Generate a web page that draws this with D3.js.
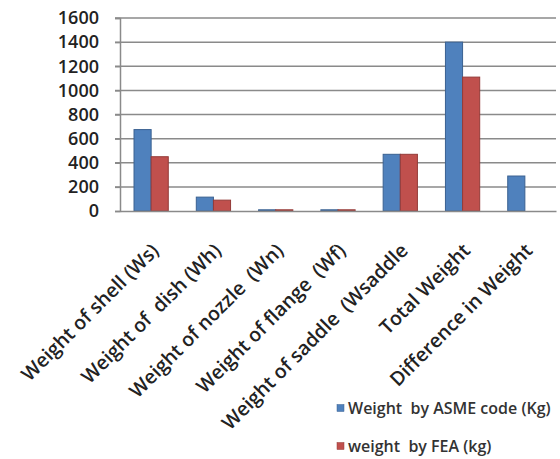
<!DOCTYPE html>
<html><head><meta charset="utf-8">
<script src="https://cdn.jsdelivr.net/npm/d3@7"></script>
<style>body{margin:0;background:#fff}text{font-family:"Open Sans",sans-serif}</style>
</head><body><svg id="c" width="560" height="459"></svg>
<script>
const categories = ["Weight of shell (Ws)","Weight of  dish (Wh)","Weight of nozzle  (Wn)","Weight of flange  (Wf)","Weight of saddle  (Wsaddle","Total Weight","Difference in Weight"];
const seriesNames = ["Weight  by ASME code (Kg)","weight  by FEA (kg)"];
const asme = [675, 115, 10, 10, 470, 1400, 290];
const fea = [450, 90, 10, 10, 470, 1110, null];
const yTicks = [0,200,400,600,800,1000,1200,1400,1600];
const colors = ["#4F81BD","#C0504D"];
const strokes = ["#3A6191","#943B38"];

const svg = d3.select("#c");
const m = {l:120, r:556, t:18, b:211};
const x = d3.scaleBand().domain(categories).range([m.l, m.r]).paddingInner(0.45).paddingOuter(0.225);
const xs = d3.scaleBand().domain([0,1]).range([0, x.bandwidth()]);
const y = d3.scaleLinear().domain([0,1600]).range([m.b, m.t]);

// gridlines
svg.append("g").selectAll("line").data(yTicks.slice(1)).join("line")
  .attr("x1", m.l-5).attr("x2", m.r).attr("y1", d=>y(d)).attr("y2", d=>y(d))
  .attr("stroke","#8a8a8a").attr("stroke-width",1.5);
// y axis
const ya = svg.append("g").attr("transform",`translate(${m.l},0)`)
  .call(d3.axisLeft(y).tickValues(yTicks).tickFormat(d3.format("d")).tickSize(5).tickPadding(16));
ya.select(".domain").attr("stroke","#8a8a8a").attr("stroke-width",1.5);
ya.selectAll(".tick line").attr("stroke","#8a8a8a").attr("stroke-width",1.5);
ya.selectAll("text").attr("font-size",18).attr("font-weight",600).attr("fill","#222");

// bars
const data = categories.map((c,i)=>({c, v:[asme[i], fea[i]]}));
const g = svg.append("g").selectAll("g").data(data).join("g").attr("transform", d=>`translate(${x(d.c)},0)`);
g.selectAll("rect").data(d=>d.v.map((v,k)=>({v,k})).filter(e=>e.v!=null)).join("rect")
  .attr("x", e=>xs(e.k)).attr("width", xs.bandwidth())
  .attr("y", e=>y(e.v)).attr("height", e=>y(0)-y(e.v))
  .attr("fill", e=>colors[e.k]).attr("stroke", e=>strokes[e.k]).attr("stroke-width",1);

// x axis
const xa = svg.append("g").attr("transform",`translate(0,${m.b})`)
  .call(d3.axisBottom(x).tickSize(0).tickFormat(""));
xa.select(".domain").attr("stroke","#8a8a8a").attr("stroke-width",1.5);
xa.selectAll(".tick text").remove();
svg.append("g").selectAll("text").data(categories).join("text")
  .attr("transform", d=>`translate(${x(d)+x.bandwidth()/2+4},${m.b+36}) rotate(-45)`)
  .attr("text-anchor","end").attr("dy","0.35em")
  .style("white-space","pre")
  .attr("font-size",19.5).attr("font-weight",600).attr("fill","#222")
  .text(d=>d);

// legend
const lg = svg.append("g").selectAll("g").data(seriesNames).join("g")
  .attr("transform",(d,i)=>`translate(337,${408+i*38})`);
lg.append("rect").attr("x",0).attr("y",-3.5).attr("width",7).attr("height",7)
  .attr("fill",(d,i)=>colors[i]).attr("stroke",(d,i)=>strokes[i]).attr("stroke-width",0.5);
lg.append("text").attr("x",11).attr("dy","0.35em").attr("font-size",16).attr("font-weight",600)
  .attr("fill","#333").style("white-space","pre").text(d=>d);
</script></body></html>
